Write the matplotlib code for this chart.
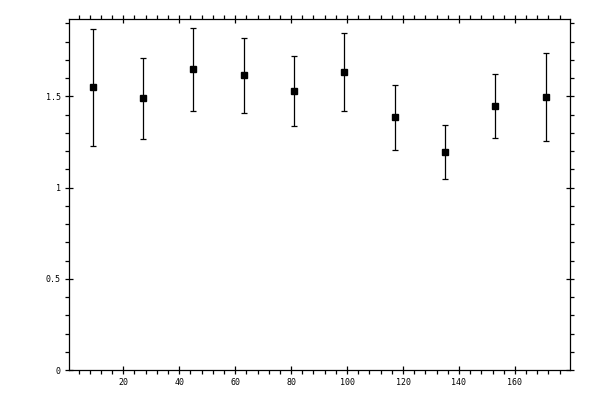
import matplotlib
matplotlib.use("Agg")
import matplotlib.pyplot as plt
from matplotlib.ticker import MultipleLocator, FixedFormatter, FixedLocator

angles = [9, 27, 45, 63, 81, 99, 117, 135, 153, 171]
values = [1.550, 1.489, 1.648, 1.615, 1.528, 1.632, 1.385, 1.194, 1.446, 1.495]
errors = [0.320, 0.222, 0.228, 0.207, 0.192, 0.214, 0.178, 0.148, 0.176, 0.242]

x_ticks = [20, 40, 60, 80, 100, 120, 140, 160]
y_ticks = [0, 0.5, 1, 1.5]
y_tick_labels = ["0", "0.5", "1", "1.5"]

fig = plt.figure(figsize=(6, 4), dpi=100)
ax = fig.add_axes([69.3/600, 30/400, (570-69.3)/600, (370-19.3)/400])

ax.errorbar(angles, values, yerr=errors, fmt='s', color='black',
            markersize=5.0, ecolor='black', elinewidth=0.9, capsize=2.3,
            capthick=0.9)

ax.set_xlim(0.7, 179.7)
ax.set_ylim(0, 1.922)

ax.xaxis.set_major_locator(FixedLocator(x_ticks))
ax.xaxis.set_minor_locator(MultipleLocator(4))
ax.yaxis.set_major_locator(FixedLocator(y_ticks))
ax.yaxis.set_major_formatter(FixedFormatter(y_tick_labels))
ax.yaxis.set_minor_locator(MultipleLocator(0.1))

for s in ax.spines.values():
    s.set_linewidth(0.9)

ax.tick_params(which='major', direction='inout', length=6, width=0.9,
               top=True, right=True, labelsize=6, pad=3)
ax.tick_params(which='minor', direction='out', length=2.6, width=0.9,
               top=True, right=True)
for lab in ax.get_xticklabels() + ax.get_yticklabels():
    lab.set_family('DejaVu Sans Mono')

fig.savefig("out.png", dpi=100)
